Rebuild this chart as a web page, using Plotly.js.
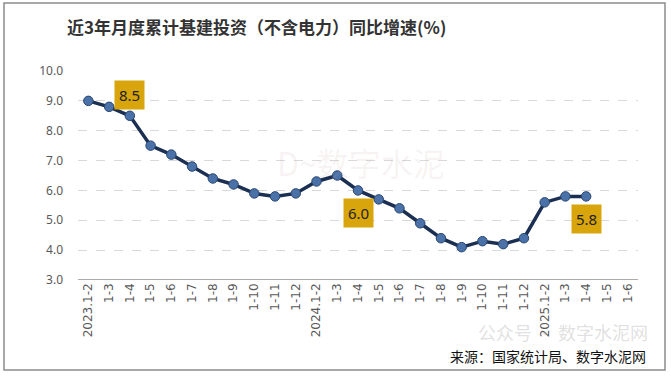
<!DOCTYPE html>
<html>
<head>
<meta charset="utf-8">
<script src="https://cdn.plot.ly/plotly-3.0.1.min.js"></script>
<style>
html,body{margin:0;padding:0;background:#fff;}
#chart{width:671px;height:377px;}
</style>
</head>
<body>
<div id="chart"></div>
<script>
const categories = ["2023.1-2","1-3","1-4","1-5","1-6","1-7","1-8","1-9","1-10","1-11","1-12",
  "2024.1-2","1-3","1-4","1-5","1-6","1-7","1-8","1-9","1-10","1-11","1-12",
  "2025.1-2","1-3","1-4","1-5","1-6"];
const growth = [9.0,8.8,8.5,7.5,7.2,6.8,6.4,6.2,5.9,5.8,5.9,
  6.3,6.5,6.0,5.7,5.4,4.9,4.4,4.1,4.3,4.2,4.4,
  5.6,5.8,5.8,null,null];
const labelledIdx = [2, 13, 24];
const labelOffsets = [-21, 23, 23];
const yTicks = [3,4,5,6,7,8,9,10];

const idx = categories.map((c,i)=>i);

const trace = {
  x: idx, y: growth, type: 'scatter', mode: 'lines+markers',
  line: {color: '#1B2F52', width: 3.5},
  marker: {size: 9.5, color: '#4A72A8', line: {color: '#2A4670', width: 1}},
  connectgaps: false, hoverinfo: 'skip'
};

const annotations = labelledIdx.map((i,k)=>({
  x: i, y: growth[i], xref:'x', yref:'y', text: growth[i].toFixed(1),
  showarrow: true, arrowcolor:'rgba(0,0,0,0)', ax: 0, ay: labelOffsets[k],
  bgcolor: '#D8A50C', borderpad: 4, font: {family:'Noto Sans, DejaVu Sans, sans-serif', size: 15, color:'#222'}
}));
annotations.push({
  xref:'paper', yref:'paper', x: 0.505, y: 0.565, xanchor:'center', yanchor:'middle',
  text: 'D~数字水泥', showarrow:false,
  font:{family:'Noto Sans CJK SC, serif', size: 32, color:'rgba(200,165,165,0.13)'}
});
annotations.push({
  xref:'paper', yref:'paper', x: 1, y: 0, xanchor:'right', yanchor:'bottom',
  text: '公众号 · 数字水泥网', showarrow:false, xshift: 12, yshift: -67,
  font:{family:'Noto Sans CJK SC, sans-serif', size: 18, color:'rgba(150,150,150,0.3)'}
});
annotations.push({
  xref:'paper', yref:'paper', x: 1, y: 0, xanchor:'right', yanchor:'bottom',
  text: '来源：国家统计局、数字水泥网', showarrow:false, xshift: 10, yshift: -88,
  font:{family:'Noto Sans CJK SC, sans-serif', size: 14, color:'#111'}
});

const layout = {
  width: 671, height: 377,
  paper_bgcolor: '#fff', plot_bgcolor: '#fff',
  margin: {l: 78, r: 33, t: 71, b: 97},
  showlegend: false,
  title: {text: '<b>近3年月度累计基建投资（不含电力）同比增速(%)</b>', x: 0.1, xanchor:'left', y: 0.925, yanchor:'middle',
    font: {family: 'Noto Sans CJK SC, sans-serif', size: 17, color: '#333'}},
  xaxis: {
    range: [-0.5, categories.length - 0.5],
    tickmode: 'array', tickvals: idx, ticktext: categories, tickangle: -90,
    tickfont: {family: 'DejaVu Sans, sans-serif', size: 12, color: '#595959'},
    showgrid: false, zeroline: false, showline: false, ticks: '', ticklen: 0
  },
  yaxis: {
    range: [3, 10], tickvals: yTicks, ticktext: yTicks.map(v=>v.toFixed(1)),
    tickfont: {family: 'Noto Sans, DejaVu Sans, sans-serif', size: 12, color: '#595959'},
    showgrid: true, gridcolor: '#D9D9D9', griddash: 'dash', gridwidth: 1,
    zeroline: false, showline: false, ticks: '', ticklabelstandoff: 14
  },
  shapes: [
    {type:'line', xref:'paper', yref:'y', x0:0, x1:1, y0:3, y1:3, line:{color:'#595959', width:1.2}},
    {type:'rect', xref:'paper', yref:'paper', x0:-74/560, x1:(560+27)/560, y0:-90/209, y1:(209+68)/209,
     line:{color:'#8C8C8C', width:1.5}, fillcolor:'rgba(0,0,0,0)'}
  ],
  annotations: annotations
};

Plotly.newPlot('chart', [trace], layout, {displayModeBar:false, staticPlot:true});
</script>
</body>
</html>
